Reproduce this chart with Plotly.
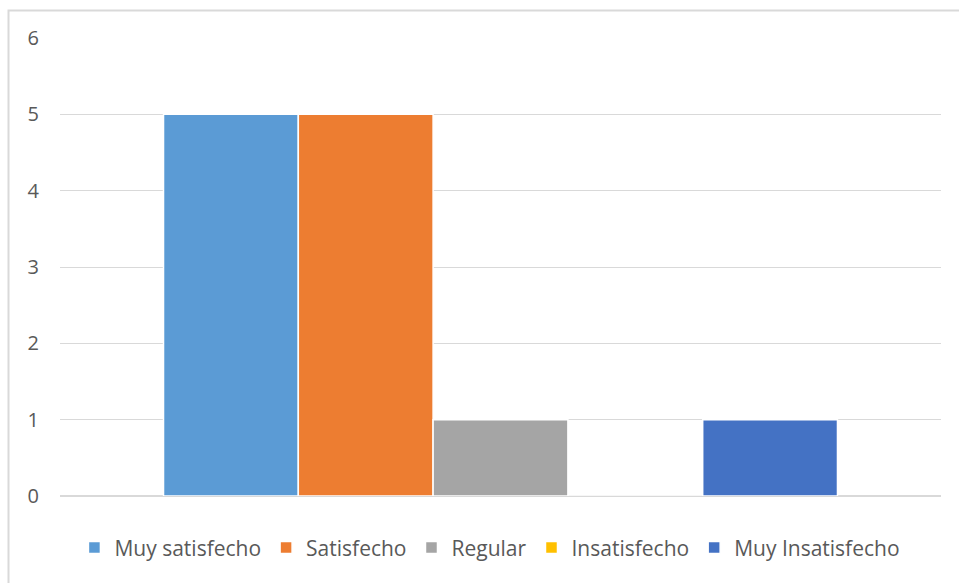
import plotly.graph_objects as go

categories = [""]
series_names = ["Muy satisfecho", "Satisfecho", "Regular", "Insatisfecho", "Muy Insatisfecho"]
series_values = [[5], [5], [1], [0], [1]]
series_colors = ["#5B9BD5", "#ED7D31", "#A5A5A5", "#FFC000", "#4472C4"]
y_ticks = [0, 1, 2, 3, 4, 5, 6]

FONT = "Open Sans, sans-serif"

fig = go.Figure()
for name, vals, col in zip(series_names, series_values, series_colors):
    fig.add_trace(go.Bar(
        x=categories, y=vals, name=name,
        marker=dict(color=col, line=dict(color="white", width=1.5)),
    ))

fig.update_layout(
    width=959, height=583,
    margin=dict(l=60, r=18, t=38, b=87),
    paper_bgcolor="white", plot_bgcolor="white",
    barmode="group", bargap=0.235, bargroupgap=0,
    font=dict(family=FONT, size=20, color="#595959"),
    showlegend=True,
    legend=dict(orientation="h", x=0.488, xanchor="center", y=-0.113, yanchor="middle",
                font=dict(family=FONT, size=21, color="#595959"),
                itemwidth=30, traceorder="normal"),
    xaxis=dict(showticklabels=False, showgrid=False, zeroline=False, showline=False,
               range=[-0.5, 0.5]),
    yaxis=dict(range=[0, 6], tickvals=y_ticks, showgrid=True, gridcolor="#D9D9D9",
               gridwidth=1, zeroline=True, zerolinecolor="#D9D9D9", showline=False,
               ticks="", ticklabelstandoff=20,
               tickfont=dict(family=FONT, size=20, color="#595959")),
    shapes=[dict(type="rect", xref="paper", yref="paper",
                 x0=(8.5 - 60) / 881, x1=1.2, y0=-0.4, y1=(496 - 10.5) / 458,
                 line=dict(color="#D9D9D9", width=2), layer="below")],
)

fig.write_html("out.html")
